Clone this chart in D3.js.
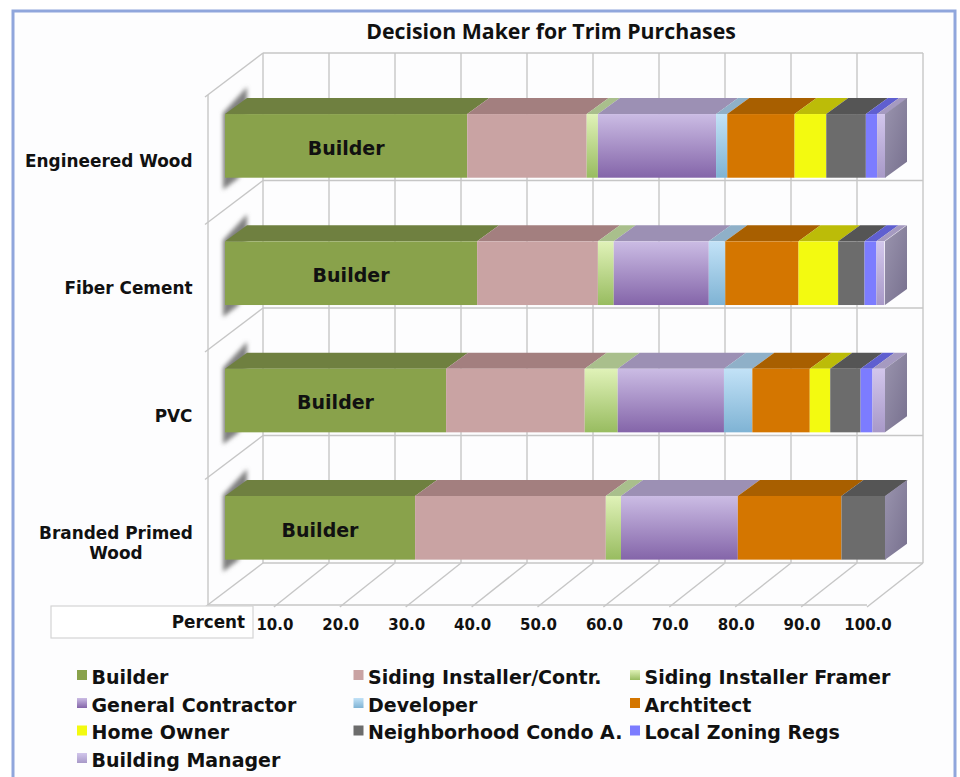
<!DOCTYPE html>
<html>
<head>
<meta charset="utf-8">
<script src="https://cdn.jsdelivr.net/npm/d3@7"></script>
<style>
  html, body { margin: 0; padding: 0; background: #fff; }
  svg { display: block; }
  text { font-family: "DejaVu Sans", sans-serif; font-weight: bold; fill: #111; }
</style>
</head>
<body>
<div id="chart-area"></div>
<script>
// Data (percent of respondents)
const categories = ['Engineered Wood', 'Fiber Cement', 'PVC', 'Branded Primed Wood'];
const seriesNames = ['Builder', 'Siding Installer/Contr.', 'Siding Installer Framer', 'General Contractor',
  'Developer', 'Archtitect', 'Home Owner', 'Neighborhood Condo A.', 'Local Zoning Regs', 'Building Manager'];
const builder = [36.7, 38.2, 33.5, 28.8];
const sidingInstaller = [18.1, 18.3, 21.0, 28.9];
const sidingFramer = [1.7, 2.4, 5.0, 2.3];
const generalContractor = [17.9, 14.4, 16.1, 17.7];
const developer = [1.7, 2.5, 4.3, 0];
const architect = [10.2, 11.1, 8.7, 15.7];
const homeOwner = [4.8, 6.0, 3.1, 0];
const neighborhood = [6.0, 4.0, 4.6, 6.7];
const localZoning = [1.7, 1.8, 1.8, 0];
const buildingManager = [1.3, 1.2, 1.9, 0];
const tickValues = [10, 20, 30, 40, 50, 60, 70, 80, 90, 100];

const seriesValues = [builder, sidingInstaller, sidingFramer, generalContractor, developer,
  architect, homeOwner, neighborhood, localZoning, buildingManager];

// front colour (top, bottom of the gradient) and colour of the top face
const frontTop = ['#89a24b', '#c9a3a3', '#e0f2b8', '#cbbce4', '#c2e2f7', '#d47600', '#f3fa10', '#6c6c6c', '#7c7cff', '#d2c6ec'];
const frontBot = ['#89a24b', '#c9a3a3', '#98bc60', '#8465a9', '#7fb3d4', '#d47600', '#f3fa10', '#6c6c6c', '#7c7cff', '#a899c8'];
const topFace = ['#6f8040', '#a37f7f', '#a9bf8c', '#9c90b4', '#8fb0c8', '#a85f00', '#bcbc08', '#555555', '#5f5fd0', '#a59ac0'];

const svg = d3.select('#chart-area').append('svg')
  .attr('width', 960)
  .attr('height', 777);

const defs = svg.append('defs');

// Gradients for the front faces
seriesNames.forEach((name, i) => {
  const grad = defs.append('linearGradient')
    .attr('id', 'front' + i)
    .attr('x1', 0).attr('y1', 0).attr('x2', 0).attr('y2', 1);
  grad.append('stop').attr('offset', '0%').attr('stop-color', frontTop[i]);
  grad.append('stop').attr('offset', '100%').attr('stop-color', frontBot[i]);
});

const sideGrad = defs.append('linearGradient')
  .attr('id', 'side')
  .attr('x1', 0).attr('y1', 0).attr('x2', 1).attr('y2', 1);
sideGrad.append('stop').attr('offset', '0%').attr('stop-color', '#9a94ae');
sideGrad.append('stop').attr('offset', '100%').attr('stop-color', '#77708e');

defs.append('filter')
  .attr('id', 'soft')
  .attr('x', '-50%').attr('y', '-20%').attr('width', '200%').attr('height', '140%')
  .append('feGaussianBlur')
  .attr('stdDeviation', 2.2);

// Page frame, runs off the bottom of the picture
svg.append('rect')
  .attr('x', 13).attr('y', 11)
  .attr('width', 942).attr('height', 790)
  .attr('fill', '#fdfdfe')
  .attr('stroke', '#90a6dc')
  .attr('stroke-width', 3);

// Title
svg.append('text')
  .attr('x', 551)
  .attr('y', 39)
  .attr('text-anchor', 'middle')
  .attr('font-size', '21.3px')
  .style('font-family', '"Open Sans", sans-serif')
  .style('font-weight', 700)
  .text('Decision Maker for Trim Purchases');

// Scales. Three planes of the same percent axis: floor front, bars, back wall
const xFloor = d3.scaleLinear().domain([0, 100]).range([208, 867]);
const xBar = d3.scaleLinear().domain([0, 100]).range([225, 885]);
const xWall = d3.scaleLinear().domain([0, 100]).range([263, 923]);

const y = d3.scaleBand()
  .domain(categories)
  .range([50.4, 623.3])
  .paddingInner(0.5)
  .paddingOuter(0.5);

// shelves on the left wall, one above each bar and the floor
const yShelf = d3.scaleLinear().domain([0, 4]).range([95, 605]);
const wallRise = 42;
const barDx = 22;
const barDy = 16;
const shelves = d3.range(0, 5);

const grid = svg.append('g')
  .attr('fill', 'none')
  .attr('stroke', '#c6c6c6')
  .attr('stroke-width', 1.4);

// Back wall verticals
grid.selectAll('.wall-v')
  .data([0].concat(tickValues))
  .enter().append('line')
  .attr('class', 'wall-v')
  .attr('x1', (d) => xWall(d))
  .attr('x2', (d) => xWall(d))
  .attr('y1', yShelf(0) - wallRise)
  .attr('y2', yShelf(4) - wallRise);

// Back wall horizontals
grid.selectAll('.wall-h')
  .data(shelves)
  .enter().append('line')
  .attr('class', 'wall-h')
  .attr('x1', xWall(0))
  .attr('x2', xWall(100))
  .attr('y1', (d) => yShelf(d) - wallRise)
  .attr('y2', (d) => yShelf(d) - wallRise);

// Left wall
grid.append('line')
  .attr('x1', xFloor(0)).attr('x2', xFloor(0))
  .attr('y1', yShelf(0)).attr('y2', yShelf(4));

grid.selectAll('.shelf')
  .data(shelves)
  .enter().append('line')
  .attr('class', 'shelf')
  .attr('x1', xFloor(0) - 3)
  .attr('x2', xWall(0))
  .attr('y1', (d) => yShelf(d) + 2)
  .attr('y2', (d) => yShelf(d) - wallRise);

// Floor
grid.append('line')
  .attr('x1', xFloor(0)).attr('x2', xFloor(100))
  .attr('y1', yShelf(4)).attr('y2', yShelf(4));

grid.selectAll('.floor')
  .data(tickValues)
  .enter().append('line')
  .attr('class', 'floor')
  .attr('x1', (d) => xFloor(d))
  .attr('x2', (d) => xWall(d))
  .attr('y1', yShelf(4) + 2)
  .attr('y2', yShelf(4) - wallRise);

// Stack the series per category
const rows = categories.map((c, i) => {
  const row = { category: c };
  seriesNames.forEach((name, s) => { row[name] = seriesValues[s][i]; });
  return row;
});
const stacked = d3.stack().keys(seriesNames)(rows);

// Soft shadow left of each bar
svg.append('g').selectAll('path')
  .data(categories)
  .enter().append('path')
  .attr('d', (c) => {
    const t = y(c);
    const b = t + y.bandwidth();
    return 'M' + (xBar(0) - 2) + ',' + (t - 1) + 'L' + (xBar(0) + 22) + ',' + (t - 27) +
      'L' + (xBar(0) + 22) + ',' + (t - 8) + 'L' + (xBar(0) + 14) + ',' + b + 'L' + (xBar(0) - 2) + ',' + (b + 12) + 'Z';
  })
  .attr('fill', '#808080')
  .attr('filter', 'url(#soft)');

// Bars
const layers = svg.selectAll('.layer')
  .data(stacked)
  .enter().append('g')
  .attr('class', 'layer');

layers.selectAll('.top')
  .data((d) => d.filter((p) => p[1] > p[0]).map((p) => ({ p: p, i: d.index })))
  .enter().append('path')
  .attr('class', 'top')
  .attr('d', (d) => {
    const x0 = xBar(d.p[0]);
    const x1 = xBar(d.p[1]);
    const t = y(d.p.data.category);
    return 'M' + x0 + ',' + t + 'L' + (x0 + barDx) + ',' + (t - barDy) +
      'L' + (x1 + barDx) + ',' + (t - barDy) + 'L' + x1 + ',' + t + 'Z';
  })
  .attr('fill', (d) => topFace[d.i]);

layers.selectAll('.front')
  .data((d) => d.filter((p) => p[1] > p[0]).map((p) => ({ p: p, i: d.index })))
  .enter().append('rect')
  .attr('class', 'front')
  .attr('x', (d) => xBar(d.p[0]))
  .attr('y', (d) => y(d.p.data.category))
  .attr('width', (d) => xBar(d.p[1]) - xBar(d.p[0]))
  .attr('height', y.bandwidth())
  .attr('fill', (d) => 'url(#front' + d.i + ')');

// End caps on the right of each bar
svg.append('g').selectAll('path')
  .data(categories)
  .enter().append('path')
  .attr('d', (c) => {
    const x1 = xBar(100);
    const t = y(c);
    const b = t + y.bandwidth();
    return 'M' + x1 + ',' + t + 'L' + (x1 + barDx) + ',' + (t - barDy) +
      'L' + (x1 + barDx) + ',' + (b - barDy) + 'L' + x1 + ',' + b + 'Z';
  })
  .attr('fill', 'url(#side)');

// Builder labels inside the first segment
svg.append('g').selectAll('text')
  .data(stacked[0])
  .enter().append('text')
  .attr('x', (d) => xBar((d[0] + d[1]) / 2))
  .attr('y', (d) => y(d.data.category) + y.bandwidth() / 2 + 8.8)
  .attr('text-anchor', 'middle')
  .attr('font-size', '19px')
  .text('Builder');

// Category labels
const catLabels = svg.append('g').selectAll('text')
  .data(categories)
  .enter().append('text')
  .attr('font-size', '16.9px');

catLabels.filter((d) => d !== 'Branded Primed Wood')
  .attr('x', 192.5)
  .attr('y', (d) => y(d) + y.bandwidth() / 2 + 21)
  .attr('text-anchor', 'end')
  .text((d) => d);

const wrapped = catLabels.filter((d) => d === 'Branded Primed Wood')
  .attr('text-anchor', 'middle');
wrapped.append('tspan')
  .attr('x', 116)
  .attr('y', (d) => y(d) + y.bandwidth() / 2 + 11)
  .text('Branded Primed');
wrapped.append('tspan')
  .attr('x', 116)
  .attr('y', (d) => y(d) + y.bandwidth() / 2 + 31)
  .text('Wood');

// Percent box and axis labels
svg.append('rect')
  .attr('x', 51).attr('y', 606)
  .attr('width', 202).attr('height', 32)
  .attr('fill', '#fff')
  .attr('stroke', '#d4d4d4')
  .attr('stroke-width', 1.2);

svg.append('text')
  .attr('x', 245)
  .attr('y', 628)
  .attr('text-anchor', 'end')
  .attr('font-size', '16.8px')
  .text('Percent');

const xAxisCall = d3.axisBottom(xFloor)
  .tickValues(tickValues)
  .tickSize(0)
  .tickPadding(0)
  .tickFormat(d3.format('.1f'));

const xAxis = svg.append('g')
  .attr('class', 'x-axis')
  .attr('transform', 'translate(0.5, 619)')
  .call(xAxisCall);
xAxis.select('.domain').remove();
xAxis.selectAll('text')
  .attr('font-size', '15px')
  .style('font-family', '"DejaVu Sans", sans-serif')
  .style('fill', '#111');

// Legend, three columns
const legendX = [77, 353.5, 630];
const legendY = [670, 698, 725.5, 753];
const legend = svg.selectAll('.legend')
  .data(seriesNames)
  .enter().append('g')
  .attr('class', 'legend')
  .attr('transform', (d, i) => 'translate(' + legendX[i % 3] + ', ' + legendY[Math.floor(i / 3)] + ')');

legend.append('rect')
  .attr('width', 10)
  .attr('height', 10)
  .attr('fill', (d, i) => 'url(#front' + i + ')');

legend.append('text')
  .attr('x', 14.5)
  .attr('y', 13.5)
  .attr('font-size', '19px')
  .text((d) => d);
</script>
</body>
</html>
